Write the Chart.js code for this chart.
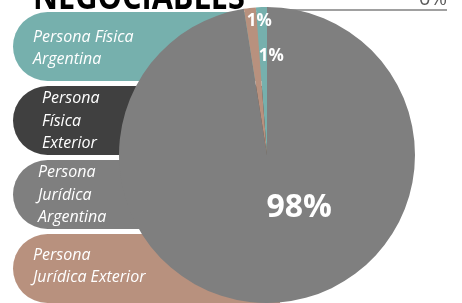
<!DOCTYPE html>
<html>
<head>
<meta charset="utf-8">
<script src="https://cdn.jsdelivr.net/npm/chart.js@4.4.1/dist/chart.umd.min.js"></script>
<style>
  html, body { margin: 0; padding: 0; background: #ffffff; }
  #wrap { position: relative; width: 462px; height: 303px; overflow: hidden; }
</style>
</head>
<body>
<div id="wrap"><canvas id="myChart" width="462" height="303"></canvas></div>
<script>
// data
const title = 'NEGOCIABLES';
const categories = [
  ['Persona Física', 'Argentina'],
  ['Persona', 'Física', 'Exterior'],
  ['Persona', 'Jurídica', 'Argentina'],
  ['Persona', 'Jurídica Exterior']
];
const shares = [1.2, 0.0, 97.5, 1.3];
const shareLabels = ['1%', '0%', '98%', '1%'];
const colors = ['#76b0ad', '#404040', '#7f7f7f', '#b8917e'];

// pill boxes behind the pie (left legend)
const boxes = [
  { top: 12, textX: 33, lineY: [37, 59] },
  { top: 86, textX: 42, lineY: [98, 121, 143] },
  { top: 160, textX: 38, lineY: [172, 195, 217] },
  { top: 234, textX: 33, lineY: [255, 277] }
];
const boxH = 69;

const legendBoxes = {
  id: 'legendBoxes',
  beforeDatasetsDraw(chart) {
    const ctx = chart.ctx;
    ctx.save();
    boxes.forEach((b, i) => {
      const r = boxH / 2;
      ctx.fillStyle = colors[i];
      ctx.beginPath();
      ctx.moveTo(13 + r, b.top);
      ctx.lineTo(280, b.top);
      ctx.lineTo(280, b.top + boxH);
      ctx.lineTo(13 + r, b.top + boxH);
      ctx.arc(13 + r, b.top + r, r, Math.PI / 2, Math.PI * 1.5);
      ctx.closePath();
      ctx.fill();
      ctx.fillStyle = '#ffffff';
      ctx.font = 'italic 16px "Open Sans"';
      ctx.textBaseline = 'middle';
      ctx.textAlign = 'left';
      categories[i].forEach((t, j) => ctx.fillText(t, b.textX, b.lineY[j]));
    });
    // title, cut off by the top edge
    ctx.fillStyle = '#000000';
    ctx.font = 'bold 36px "Open Sans"';
    ctx.textBaseline = 'alphabetic';
    ctx.fillText(title, 33, 9, 212);
    ctx.restore();
  },
  afterDatasetsDraw(chart) {
    const ctx = chart.ctx;
    const arcs = chart.getDatasetMeta(0).data;
    const cx = arcs[0].x, cy = arcs[0].y, R = arcs[0].outerRadius;
    ctx.save();
    ctx.fillStyle = '#ffffff';
    ctx.textAlign = 'center';
    ctx.textBaseline = 'middle';
    // label placement: [radius fraction, x shift, font size]
    const place = [[0.67, 8, 17], null, [0.36, 28, 32], [0.91, 8, 17]];
    arcs.forEach((a, i) => {
      if (!place[i]) return;
      const mid = (a.startAngle + a.endAngle) / 2;
      const x = cx + Math.cos(mid) * R * place[i][0] + place[i][1];
      const y = cy + Math.sin(mid) * R * place[i][0];
      ctx.font = 'bold ' + place[i][2] + 'px "Open Sans"';
      ctx.fillText(shareLabels[i], x, y);
    });
    // zero slice label with leader line, top right
    ctx.strokeStyle = '#808080';
    ctx.lineWidth = 1.5;
    ctx.beginPath();
    ctx.moveTo(287, 10);
    ctx.lineTo(447, 10);
    ctx.stroke();
    ctx.fillStyle = '#595959';
    ctx.font = '20px "Open Sans"';
    ctx.textAlign = 'right';
    ctx.textBaseline = 'alphabetic';
    ctx.fillText(shareLabels[1], 447, 5);
    ctx.restore();
  }
};

new Chart(document.getElementById('myChart'), {
  type: 'pie',
  data: {
    labels: categories.map(c => c.join(' ')),
    datasets: [{
      data: shares,
      backgroundColor: colors,
      borderWidth: 0
    }]
  },
  options: {
    responsive: false,
    animation: false,
    rotation: -shares[0] * 3.6,
    layout: { padding: { left: 119, right: 47, top: 7, bottom: 0 } },
    plugins: {
      legend: { display: false },
      tooltip: { enabled: false }
    }
  },
  plugins: [legendBoxes]
});
</script>
</body>
</html>
